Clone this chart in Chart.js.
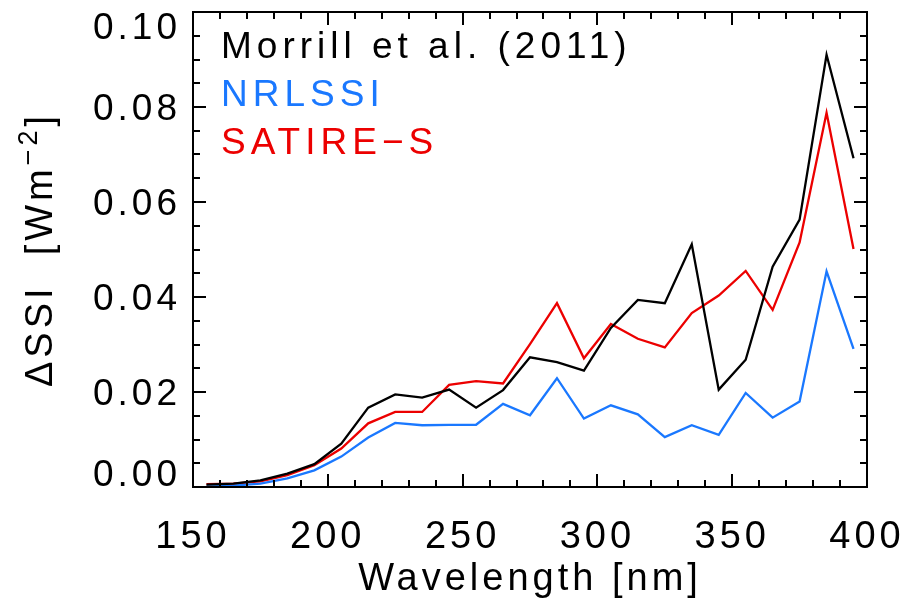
<!DOCTYPE html>
<html lang="en">
<head>
<meta charset="UTF-8">
<title>SSI change</title>
<script src="https://cdn.jsdelivr.net/npm/chart.js@4.4.1/dist/chart.umd.min.js"></script>
<style>
  body { margin:0; background:#fff; }
  #box { width:906px; height:610px; }
</style>
</head>
<body>
<div id="box"><canvas id="myChart" width="906" height="610"></canvas></div>
<script>
// wavelength bin centres [nm]
var wavelengths = [155,165,175,185,195,205,215,225,235,245,255,265,275,285,295,305,315,325,335,345,355,365,375,385,395];

var morrill = [0.0005,0.0007,0.0014,0.0028,0.0048,0.0091,0.0167,0.0195,0.0188,0.0205,0.0167,0.0204,0.0273,0.0263,0.0245,
               0.0335,0.0394,0.0387,0.0511,0.0205,0.0268,0.0464,0.0563,0.0910,0.0692];
var nrlssi  = [0.0001,0.0003,0.0007,0.0018,0.0035,0.0064,0.0104,0.0135,0.0130,0.0131,0.0131,0.0175,0.0151,0.0229,0.0144,
               0.0172,0.0153,0.0105,0.0130,0.0110,0.0198,0.0146,0.0180,0.0454,0.0291];
var satire  = [0.0006,0.0007,0.0012,0.0025,0.0046,0.0081,0.0134,0.0158,0.0158,0.0215,0.0223,0.0218,0.0301,0.0387,0.0271,
               0.0343,0.0312,0.0294,0.0366,0.0403,0.0455,0.0373,0.0515,0.0788,0.0501];

var xTicks = [150,200,250,300,350,400];
var yTicks = [0.00,0.02,0.04,0.06,0.08,0.10];

var FONT = "'Liberation Sans', sans-serif";

var f_pts = function(p_vals){
    var v_out = [];
    for(var i=0; i<wavelengths.length; i++){
        v_out.push({x: wavelengths[i], y: p_vals[i]});
    }
    return v_out;
}

var f_set = function(p_lbl, p_vals, p_clr){
    return {
        label: p_lbl,
        data: f_pts(p_vals),
        borderColor: p_clr,
        backgroundColor: p_clr,
        borderWidth: 2.3,
        pointRadius: 0,
        tension: 0
    };
}

// wide IDL-like letter spacing for every text drawn on the canvas
var spacing = {
    id: 'spacing',
    beforeLayout: function(chart){ chart.ctx.letterSpacing = '4px'; },
    beforeDraw: function(chart){ chart.ctx.letterSpacing = '4px'; }
};

// frame + inward ticks on all four sides, y labels kept inside the frame height
var frameTicks = {
    id: 'frameTicks',
    afterDraw: function(chart){
        var c = chart.ctx, a = chart.chartArea;
        var sx = chart.scales.x, sy = chart.scales.y;
        c.save();
        c.strokeStyle = '#000';
        c.lineWidth = 2;
        c.strokeRect(a.left, a.top, a.right - a.left, a.bottom - a.top);
        c.beginPath();
        for(var v=150; v<=400; v+=10){
            var px = Math.round(sx.getPixelForValue(v));
            var len = (v % 50 === 0) ? 13 : 7;
            c.moveTo(px, a.bottom); c.lineTo(px, a.bottom - len);
            c.moveTo(px, a.top);    c.lineTo(px, a.top + len);
        }
        for(var k=0; k<=20; k++){
            var py = Math.round(sy.getPixelForValue(k*0.005));
            var len2 = (k % 4 === 0) ? 13 : 7;
            c.moveTo(a.left, py);  c.lineTo(a.left + len2, py);
            c.moveTo(a.right, py); c.lineTo(a.right - len2, py);
        }
        c.stroke();

        c.fillStyle = '#000';
        c.font = '37px ' + FONT;
        c.letterSpacing = '4px';
        c.textAlign = 'right';
        c.textBaseline = 'alphabetic';
        for(var j=0; j<yTicks.length; j++){
            var cy = sy.getPixelForValue(yTicks[j]);
            if(cy - 13 < a.top) cy = a.top + 14;
            if(cy + 13 > a.bottom) cy = a.bottom - 14;
            c.fillText(yTicks[j].toFixed(2), 181, cy + 13);
        }

        // y title with a real superscript
        var parts = [
            {t: '\u0394SSI  [Wm', f: '38px ', dy: 0},
            {t: '\u22122', f: '27px ', dy: -15},
            {t: ']', f: '38px ', dy: 0}
        ];
        c.letterSpacing = '4px';
        c.textAlign = 'left';
        var total = 0;
        for(var p=0; p<parts.length; p++){
            c.font = parts[p].f + FONT;
            parts[p].w = c.measureText(parts[p].t).width;
            total += parts[p].w;
        }
        c.translate(52, (a.top + a.bottom) / 2);
        c.rotate(-Math.PI / 2);
        var xx = -total / 2;
        for(var q=0; q<parts.length; q++){
            c.font = parts[q].f + FONT;
            c.fillText(parts[q].t, xx, parts[q].dy);
            xx += parts[q].w;
        }
        c.restore();
    }
};

// text legend inside the plot
var textLegend = {
    id: 'textLegend',
    afterDraw: function(chart){
        var c = chart.ctx;
        var baselines = [58,106,154];
        c.save();
        c.font = '37px ' + FONT;
        c.letterSpacing = '5px';
        c.textAlign = 'left';
        c.textBaseline = 'alphabetic';
        for(var i=0; i<chart.data.datasets.length; i++){
            var ds = chart.data.datasets[i];
            c.fillStyle = ds.borderColor;
            c.fillText(ds.label, 221, baselines[i]);
        }
        c.restore();
    }
};

const ctx = document.getElementById('myChart').getContext('2d');
const myChart = new Chart(ctx, {
    type: 'line',
    data: {
        datasets: [
            f_set('Morrill et al. (2011)', morrill, '#000000'),
            f_set('NRLSSI', nrlssi, '#1a78ff'),
            f_set('SATIRE\u2212S', satire, '#ec0000')
        ]
    },
    options: {
        responsive: false,
        animation: false,
        layout: { padding: { top: 12, right: 39, left: 0, bottom: 0 } },
        plugins: { legend: { display: false }, tooltip: { enabled: false } },
        scales: {
            x: {
                type: 'linear',
                min: 150, max: 400,
                afterBuildTicks: function(s){ s.ticks = xTicks.map(function(v){ return {value: v}; }); },
                afterFit: function(s){ s.height = 123; s.paddingLeft = 0; s.paddingRight = 0; },
                grid: { display: false, drawTicks: false },
                border: { display: false },
                ticks: { color: '#000', padding: 28, maxRotation: 0, font: { family: FONT, size: 38 } },
                title: { display: true, text: 'Wavelength [nm]', color: '#000', padding: { top: 0, bottom: 8 },
                         font: { family: FONT, size: 38 } }
            },
            y: {
                min: 0, max: 0.1,
                afterBuildTicks: function(s){ s.ticks = yTicks.map(function(v){ return {value: v}; }); },
                afterFit: function(s){ s.width = 193; s.paddingTop = 0; s.paddingBottom = 0; },
                grid: { display: false, drawTicks: false },
                border: { display: false },
                ticks: { display: false },
                title: { display: false }
            }
        }
    },
    plugins: [spacing, frameTicks, textLegend]
});
</script>
</body>
</html>
